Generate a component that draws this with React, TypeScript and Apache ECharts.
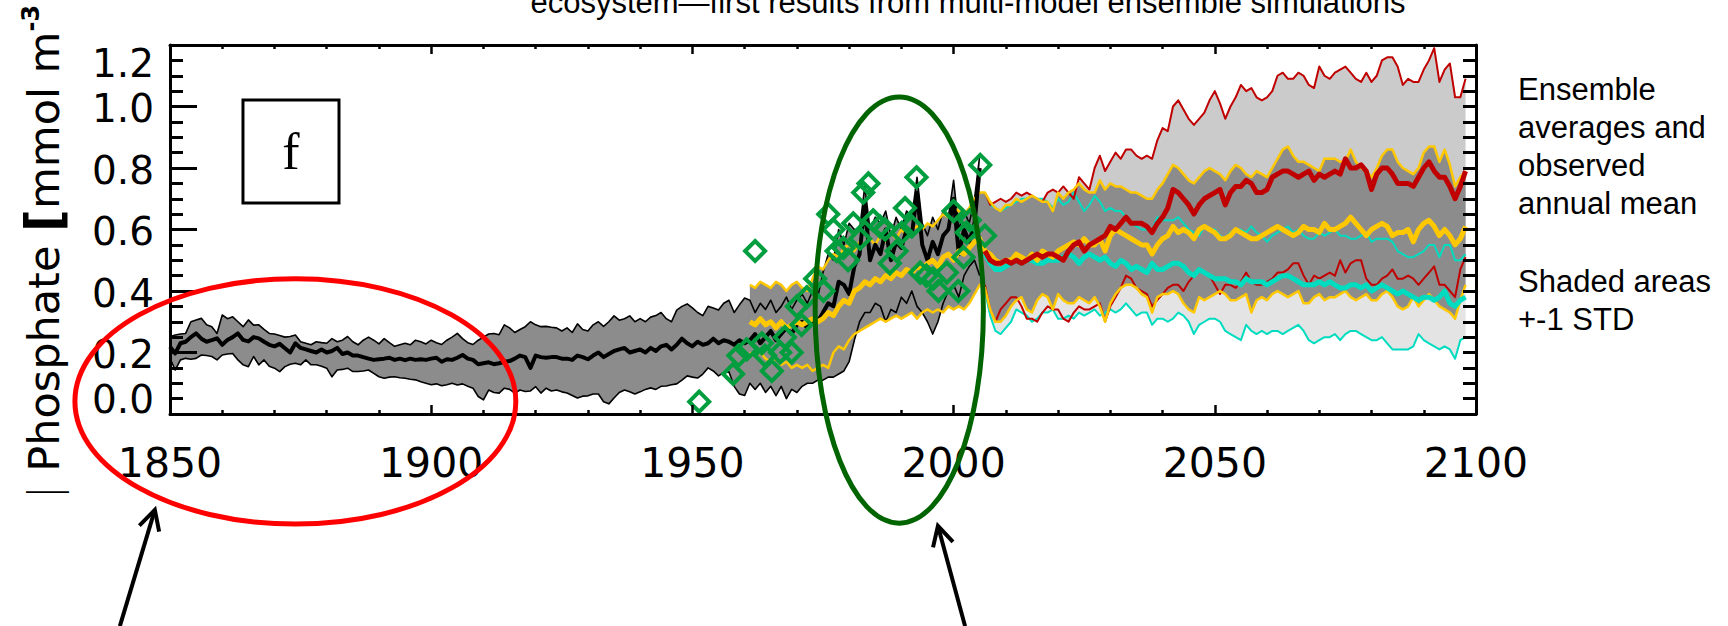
import React, { useEffect, useRef } from "react";
import * as echarts from "echarts";

// ---------------- data ----------------
const HIST_START = 1850; // black ensemble, 1850-2005
const YELLOW_START = 1961; // yellow ensemble, 1961-2098
const SCEN_START = 2006; // red / cyan scenarios, 2006-2098

const blackMean = [
  0.219, 0.197, 0.23, 0.235, 0.25, 0.262, 0.245, 0.235, 0.24, 0.246,
  0.225, 0.241, 0.25, 0.262, 0.241, 0.236, 0.25, 0.246, 0.235, 0.225,
  0.22, 0.228, 0.214, 0.2, 0.23, 0.215, 0.21, 0.205, 0.2, 0.21,
  0.2, 0.205, 0.215, 0.195, 0.2, 0.19, 0.19, 0.185, 0.18, 0.176,
  0.178, 0.18, 0.183, 0.176, 0.18, 0.175, 0.18, 0.176, 0.178, 0.176,
  0.18, 0.183, 0.17, 0.178, 0.176, 0.183, 0.192, 0.18, 0.176, 0.162,
  0.165, 0.168, 0.162, 0.165, 0.17, 0.172, 0.18, 0.19, 0.185, 0.15,
  0.19, 0.185, 0.183, 0.185, 0.185, 0.18, 0.18, 0.176, 0.19, 0.185,
  0.178, 0.19, 0.2, 0.185, 0.195, 0.205, 0.21, 0.215, 0.2, 0.205,
  0.21, 0.2, 0.215, 0.205, 0.22, 0.225, 0.21, 0.225, 0.245, 0.23,
  0.22, 0.235, 0.225, 0.23, 0.245, 0.23, 0.24, 0.235, 0.225, 0.24,
  0.23, 0.24, 0.26, 0.23, 0.25, 0.27, 0.24, 0.26, 0.28, 0.26,
  0.29, 0.3, 0.28, 0.31, 0.3, 0.33, 0.36, 0.35, 0.43, 0.42,
  0.39, 0.48, 0.52, 0.68, 0.5, 0.55, 0.52, 0.6, 0.5, 0.56,
  0.54, 0.6, 0.58, 0.72, 0.55, 0.5, 0.56, 0.52, 0.58, 0.6,
  0.7, 0.52, 0.6, 0.56, 0.62, 0.8,
];
const blackUpper = [
  0.251, 0.257, 0.26, 0.262, 0.3, 0.306, 0.311, 0.29, 0.284, 0.262,
  0.322, 0.31, 0.316, 0.3, 0.284, 0.306, 0.289, 0.29, 0.275, 0.262,
  0.26, 0.255, 0.25, 0.252, 0.257, 0.235, 0.23, 0.225, 0.235, 0.232,
  0.23, 0.245, 0.235, 0.24, 0.252, 0.235, 0.225, 0.24, 0.25, 0.24,
  0.228, 0.245, 0.232, 0.22, 0.225, 0.23, 0.225, 0.24, 0.235, 0.228,
  0.24, 0.232, 0.226, 0.24, 0.25, 0.262, 0.245, 0.232, 0.226, 0.24,
  0.25, 0.26, 0.262, 0.258, 0.29, 0.28, 0.265, 0.275, 0.284, 0.3,
  0.29, 0.284, 0.285, 0.282, 0.28, 0.27, 0.28, 0.265, 0.293, 0.275,
  0.27, 0.29, 0.3, 0.285, 0.3, 0.319, 0.305, 0.31, 0.319, 0.3,
  0.31, 0.3, 0.315, 0.32, 0.33, 0.31, 0.3, 0.338, 0.35, 0.358,
  0.345, 0.33, 0.32, 0.35, 0.345, 0.338, 0.36, 0.37, 0.33, 0.355,
  0.377, 0.37, 0.33, 0.36, 0.34, 0.37, 0.33, 0.35, 0.38, 0.34,
  0.37, 0.39, 0.36, 0.4, 0.38, 0.46, 0.52, 0.5, 0.6, 0.55,
  0.62, 0.6, 0.6, 0.74, 0.6, 0.64, 0.62, 0.66, 0.58, 0.64,
  0.6, 0.66, 0.64, 0.77, 0.62, 0.58, 0.64, 0.6, 0.66, 0.64,
  0.76, 0.6, 0.66, 0.62, 0.7, 0.84,
];
const blackLower = [
  0.181, 0.143, 0.176, 0.181, 0.178, 0.181, 0.192, 0.19, 0.187, 0.176,
  0.192, 0.195, 0.197, 0.176, 0.16, 0.154, 0.187, 0.16, 0.176, 0.155,
  0.149, 0.138, 0.154, 0.162, 0.165, 0.16, 0.176, 0.16, 0.16, 0.155,
  0.149, 0.121, 0.143, 0.145, 0.149, 0.138, 0.138, 0.14, 0.143, 0.132,
  0.121, 0.116, 0.12, 0.121, 0.118, 0.116, 0.113, 0.111, 0.105, 0.1,
  0.095, 0.098, 0.092, 0.095, 0.1, 0.094, 0.098, 0.09, 0.084, 0.057,
  0.046, 0.078, 0.07, 0.068, 0.084, 0.08, 0.068, 0.078, 0.073, 0.075,
  0.089, 0.068, 0.084, 0.075, 0.078, 0.072, 0.068, 0.06, 0.052, 0.058,
  0.059, 0.065, 0.065, 0.04, 0.033, 0.052, 0.07, 0.078, 0.072, 0.065,
  0.072, 0.08, 0.085, 0.08, 0.09, 0.091, 0.095, 0.098, 0.11, 0.124,
  0.12, 0.117, 0.13, 0.15, 0.14, 0.124, 0.135, 0.137, 0.09, 0.065,
  0.06, 0.1, 0.08, 0.1, 0.07, 0.09, 0.06, 0.09, 0.05, 0.08,
  0.07, 0.09, 0.1, 0.1, 0.11, 0.11, 0.12, 0.12, 0.13, 0.14,
  0.17, 0.24, 0.3, 0.33, 0.33, 0.36, 0.35, 0.3, 0.34, 0.33,
  0.38, 0.36, 0.4, 0.35, 0.33, 0.3, 0.26, 0.3, 0.36, 0.4,
  0.42, 0.38, 0.45, 0.48, 0.5, 0.45,
];

const yellowUpper = [
  0.42, 0.41, 0.43, 0.42, 0.41, 0.43, 0.42, 0.4, 0.42, 0.43,
  0.41, 0.4, 0.44, 0.48, 0.47, 0.5, 0.52, 0.51, 0.54, 0.55,
  0.53, 0.56, 0.55, 0.57, 0.55, 0.58, 0.56, 0.59, 0.57, 0.6,
  0.58, 0.6, 0.61, 0.6, 0.62, 0.61, 0.63, 0.65, 0.64, 0.67,
  0.66, 0.65, 0.67, 0.7, 0.72,
  0.72, 0.69, 0.67, 0.66, 0.68, 0.68, 0.7, 0.69, 0.7, 0.71,
  0.7, 0.69, 0.69, 0.66, 0.72, 0.7, 0.72, 0.73, 0.75, 0.73,
  0.72, 0.72, 0.76, 0.73, 0.75, 0.74, 0.74, 0.73, 0.72, 0.72,
  0.71, 0.7, 0.7, 0.73, 0.75, 0.78, 0.81, 0.8, 0.78, 0.76,
  0.75, 0.77, 0.79, 0.8, 0.79, 0.78, 0.76, 0.79, 0.81, 0.8,
  0.78, 0.77, 0.79, 0.78, 0.77, 0.8, 0.83, 0.86, 0.87, 0.84,
  0.82, 0.82, 0.81, 0.8, 0.79, 0.83, 0.83, 0.83, 0.82, 0.82,
  0.86, 0.82, 0.8, 0.79, 0.77, 0.8, 0.84, 0.86, 0.86, 0.82,
  0.8, 0.79, 0.78, 0.8, 0.85, 0.87, 0.87, 0.82, 0.86, 0.81,
  0.74, 0.77, 0.79,
];
const yellowMean = [
  0.3, 0.29, 0.31, 0.29, 0.3, 0.28, 0.3, 0.28, 0.29, 0.3,
  0.29, 0.3, 0.31, 0.3, 0.31, 0.33, 0.32, 0.35, 0.37, 0.36,
  0.4, 0.41, 0.43, 0.42, 0.44, 0.43, 0.45, 0.44, 0.46, 0.45,
  0.47, 0.46, 0.48, 0.47, 0.49, 0.5, 0.48, 0.51, 0.52, 0.5,
  0.53, 0.52, 0.54, 0.56, 0.57,
  0.53, 0.52, 0.5, 0.49, 0.5, 0.5, 0.52, 0.51, 0.5, 0.52,
  0.5, 0.53, 0.52, 0.51, 0.53, 0.54, 0.55, 0.56, 0.55, 0.57,
  0.55, 0.55, 0.57, 0.53, 0.58, 0.6, 0.59, 0.58, 0.57, 0.56,
  0.55, 0.55, 0.52, 0.55, 0.57, 0.58, 0.61, 0.59, 0.6, 0.59,
  0.57, 0.6, 0.61, 0.6, 0.59, 0.57, 0.57, 0.58, 0.6, 0.59,
  0.58, 0.57, 0.57, 0.58, 0.59, 0.6, 0.61, 0.6, 0.59, 0.58,
  0.59, 0.61, 0.6, 0.6, 0.59, 0.62, 0.6, 0.6, 0.61, 0.62,
  0.64, 0.62, 0.6, 0.58, 0.6, 0.61, 0.62, 0.61, 0.58, 0.59,
  0.59, 0.6, 0.56, 0.6, 0.62, 0.63, 0.61, 0.58, 0.6, 0.58,
  0.55, 0.57, 0.61,
];
const yellowLower = [
  0.2, 0.19, 0.2, 0.18, 0.17, 0.18, 0.16, 0.17, 0.15, 0.16,
  0.15, 0.16, 0.14, 0.15, 0.16, 0.15, 0.2, 0.22, 0.21, 0.24,
  0.26, 0.27, 0.28, 0.29, 0.3, 0.31, 0.3, 0.31, 0.32, 0.31,
  0.32, 0.33, 0.31, 0.33, 0.34, 0.33, 0.34, 0.33, 0.35, 0.34,
  0.35, 0.34, 0.36, 0.39, 0.42,
  0.41, 0.34, 0.3, 0.3, 0.32, 0.35, 0.37, 0.38, 0.34, 0.33,
  0.37, 0.39, 0.38, 0.34, 0.39, 0.37, 0.36, 0.36, 0.38, 0.37,
  0.36, 0.38, 0.35, 0.3, 0.36, 0.39, 0.41, 0.42, 0.42, 0.41,
  0.39, 0.38, 0.33, 0.38, 0.39, 0.39, 0.4, 0.39, 0.36, 0.34,
  0.33, 0.38, 0.37, 0.38, 0.39, 0.4, 0.39, 0.37, 0.37, 0.38,
  0.39, 0.33, 0.37, 0.38, 0.37, 0.39, 0.4, 0.39, 0.38, 0.39,
  0.4, 0.36, 0.36, 0.38, 0.39, 0.37, 0.38, 0.38, 0.39, 0.4,
  0.38, 0.37, 0.38, 0.39, 0.37, 0.37, 0.39, 0.4, 0.38, 0.35,
  0.34, 0.35, 0.38, 0.35, 0.37, 0.39, 0.37, 0.35, 0.34, 0.33,
  0.31, 0.37, 0.42,
];

const redUpper = [
  0.72, 0.68, 0.69, 0.7, 0.69, 0.7, 0.72, 0.71, 0.72, 0.71,
  0.7, 0.69, 0.72, 0.73, 0.72, 0.74, 0.72, 0.7, 0.77, 0.75,
  0.73, 0.8, 0.84, 0.79, 0.82, 0.85, 0.83, 0.86, 0.86, 0.84,
  0.83, 0.84, 0.83, 0.89, 0.93, 0.92, 1.0, 1.02, 0.99, 0.96,
  0.94, 0.96, 0.98, 1.02, 1.05, 1.01, 0.96, 1.0, 1.03, 1.07,
  1.05, 1.06, 1.03, 1.02, 1.03, 1.05, 1.1, 1.11, 1.09, 1.09,
  1.11, 1.1, 1.07, 1.06, 1.13, 1.1, 1.09, 1.11, 1.12, 1.13,
  1.11, 1.09, 1.08, 1.11, 1.08, 1.1, 1.15, 1.16, 1.16, 1.13,
  1.07, 1.09, 1.08, 1.08, 1.12, 1.15, 1.19, 1.08, 1.12, 1.14,
  1.03, 1.03, 1.09,
];
const redMean = [
  0.53, 0.5, 0.49, 0.49, 0.5, 0.49, 0.5, 0.49, 0.5, 0.51,
  0.52, 0.51, 0.52, 0.52, 0.51, 0.5, 0.53, 0.55, 0.56, 0.53,
  0.55, 0.56, 0.57, 0.58, 0.61, 0.6, 0.62, 0.64, 0.62, 0.62,
  0.62, 0.61, 0.59, 0.62, 0.64, 0.67, 0.73, 0.72, 0.7, 0.68,
  0.65, 0.68, 0.7, 0.71, 0.72, 0.73, 0.68, 0.72, 0.74, 0.74,
  0.76, 0.75, 0.72, 0.72, 0.73, 0.77, 0.78, 0.79, 0.79, 0.78,
  0.77, 0.78, 0.79, 0.76, 0.78, 0.77, 0.78, 0.79, 0.78, 0.83,
  0.8, 0.8, 0.81, 0.79, 0.73, 0.78, 0.8, 0.8, 0.78, 0.75,
  0.75, 0.75, 0.74, 0.77, 0.8, 0.82, 0.79, 0.77, 0.77, 0.74,
  0.7, 0.74, 0.79,
];
const redLower = [
  0.42, 0.34, 0.3, 0.34, 0.36, 0.38, 0.38, 0.35, 0.31, 0.31,
  0.3, 0.33, 0.35, 0.34, 0.34, 0.31, 0.3, 0.33, 0.35, 0.34,
  0.34, 0.35, 0.36, 0.3, 0.35, 0.38, 0.41, 0.45, 0.44, 0.41,
  0.4, 0.39, 0.35, 0.37, 0.39, 0.41, 0.42, 0.42, 0.4, 0.43,
  0.45, 0.47, 0.46, 0.45, 0.42, 0.39, 0.42, 0.42, 0.41, 0.43,
  0.46, 0.43, 0.42, 0.42, 0.43, 0.44, 0.46, 0.46, 0.47, 0.49,
  0.49, 0.45, 0.42, 0.45, 0.44, 0.45, 0.46, 0.45, 0.5, 0.46,
  0.49, 0.5, 0.5, 0.44, 0.42, 0.42, 0.44, 0.45, 0.47, 0.44,
  0.44, 0.45, 0.44, 0.42, 0.44, 0.46, 0.48, 0.42, 0.42, 0.4,
  0.38, 0.47, 0.51,
];

const cyanUpper = [
  0.72, 0.68, 0.67, 0.66, 0.67, 0.68, 0.69, 0.7, 0.7, 0.71,
  0.7, 0.7, 0.69, 0.67, 0.7, 0.68, 0.69, 0.72, 0.69, 0.66,
  0.68, 0.71, 0.69, 0.66, 0.67, 0.66, 0.66, 0.64, 0.62, 0.61,
  0.6, 0.6, 0.6, 0.64, 0.63, 0.63, 0.63, 0.64, 0.62, 0.6,
  0.59, 0.58, 0.61, 0.6, 0.6, 0.58, 0.57, 0.59, 0.6, 0.6,
  0.59, 0.61, 0.59, 0.58, 0.56, 0.58, 0.59, 0.6, 0.61, 0.59,
  0.6, 0.58, 0.57, 0.57, 0.59, 0.58, 0.59, 0.6, 0.58, 0.58,
  0.57, 0.57, 0.58, 0.59, 0.56, 0.57, 0.57, 0.57, 0.56, 0.53,
  0.52, 0.51, 0.51, 0.52, 0.53, 0.55, 0.55, 0.51, 0.55, 0.55,
  0.5, 0.5, 0.52,
];
const cyanMean = [
  0.52, 0.49, 0.47, 0.47, 0.48, 0.49, 0.5, 0.49, 0.5, 0.5,
  0.49, 0.49, 0.5, 0.5, 0.5, 0.51, 0.52, 0.51, 0.49, 0.51,
  0.52, 0.51, 0.5, 0.51, 0.49, 0.48, 0.5, 0.49, 0.47, 0.48,
  0.47, 0.46, 0.49, 0.47, 0.47, 0.48, 0.49, 0.49, 0.48, 0.46,
  0.45, 0.47, 0.46, 0.45, 0.44, 0.44, 0.44, 0.43, 0.43, 0.42,
  0.44, 0.43, 0.43, 0.43, 0.42, 0.43, 0.44, 0.45, 0.45, 0.44,
  0.43, 0.42, 0.42, 0.42, 0.43, 0.42, 0.43, 0.42, 0.41, 0.41,
  0.42, 0.42, 0.41, 0.42, 0.4, 0.41, 0.42, 0.41, 0.4, 0.39,
  0.4, 0.39, 0.38, 0.37, 0.38, 0.38, 0.37, 0.38, 0.4, 0.36,
  0.35, 0.37, 0.38,
];
const cyanLower = [
  0.4, 0.32, 0.27, 0.26, 0.28, 0.3, 0.34, 0.33, 0.32, 0.3,
  0.31, 0.33, 0.33, 0.34, 0.31, 0.31, 0.32, 0.31, 0.33, 0.32,
  0.33, 0.34, 0.32, 0.33, 0.34, 0.33, 0.34, 0.36, 0.34, 0.32,
  0.33, 0.33, 0.29, 0.31, 0.31, 0.3, 0.31, 0.33, 0.32, 0.3,
  0.26, 0.29, 0.3, 0.31, 0.31, 0.3, 0.27, 0.26, 0.25, 0.24,
  0.29, 0.27, 0.26, 0.27, 0.26, 0.27, 0.27, 0.26, 0.27, 0.28,
  0.29, 0.27, 0.24, 0.23, 0.24, 0.25, 0.25, 0.26, 0.24, 0.26,
  0.27, 0.27, 0.26, 0.25, 0.24, 0.24, 0.25, 0.23, 0.21, 0.21,
  0.21, 0.21, 0.22, 0.26, 0.24, 0.23, 0.22, 0.21, 0.22, 0.21,
  0.18, 0.24, 0.25,
];

// observed annual means (green diamonds)
const obsYear = [
  1951.3, 1957.8, 1958.8, 1960.4, 1962.0, 1963.3, 1963.9, 1965.2, 1966.8, 1967.7,
  1969.0, 1970.0, 1970.9, 1971.9, 1973.5, 1975.1, 1976.0, 1977.0, 1977.6, 1978.9,
  1979.8, 1980.8, 1982.1, 1982.7, 1983.7, 1984.6, 1985.9, 1986.9, 1987.8, 1989.1,
  1990.1, 1990.7, 1992.0, 1992.9, 1993.6, 1994.8, 1996.1, 1997.1, 1998.7, 2000.0,
  2000.9, 2001.9, 2002.5, 2003.1, 2005.1, 2006.0,
];
const obsValue = [
  0.04, 0.13, 0.19, 0.21, 0.53, 0.23, 0.19, 0.14, 0.2, 0.25,
  0.2, 0.35, 0.29, 0.38, 0.44, 0.4, 0.65, 0.6, 0.53, 0.54,
  0.5, 0.62, 0.57, 0.72, 0.75, 0.63, 0.61, 0.6, 0.49, 0.53,
  0.59, 0.67, 0.61, 0.77, 0.46, 0.45, 0.44, 0.4, 0.46, 0.66,
  0.4, 0.51, 0.59, 0.63, 0.81, 0.58,
];

// axes
const X_MIN = 1850, X_MAX = 2100, X_STEP = 50;
const Y_MIN = 0, Y_MAX = 1.2, Y_STEP = 0.2;

// texts
const TITLE_TEXT = "ecosystem\u2014first results from multi-model ensemble simulations";
const LEGEND_1 = ["Ensemble", "averages and", "observed", "annual mean"];
const LEGEND_2 = ["Shaded areas", "+-1 STD"];
const PANEL_LETTER = "f";

// annotations, in data coordinates
const redEllipse = { year: 1874.0, value: 0.041, yearRadius: 42.2, valueRadius: 0.399 };
const greenEllipse = { year: 1989.6, value: 0.338, yearRadius: 16.1, valueRadius: 0.693 };
const arrows = [
  { from: [1840.4, -0.69], to: [1847.1, -0.312] },
  { from: [2002.2, -0.69], to: [1997.0, -0.364] },
];
const letterBox = { from: [1863.97, 1.021], to: [1882.35, 0.686] };

// ---------------- helpers ----------------
const pairs = (start: number, arr: number[]) => arr.map((v, i) => [start + i, v]);
const bandRows = (start: number, lo: number[], hi: number[]) =>
  lo.map((v, i) => [start + i, v, hi[i]]);

function band(rows: number[][], fill: string, z: number) {
  return {
    type: "custom",
    data: rows,
    encode: { x: 0, y: [1, 2] },
    z,
    silent: true,
    clip: true,
    renderItem: (params: any, api: any) => {
      if (params.dataIndex !== 0) return null;
      const top = rows.map((r) => api.coord([r[0], r[2]]));
      const bottom = rows.map((r) => api.coord([r[0], r[1]])).reverse();
      return {
        type: "polygon",
        shape: { points: top.concat(bottom) },
        style: { fill, stroke: null },
      };
    },
  };
}

function line(start: number, arr: number[], color: string, width: number, z: number) {
  return {
    type: "line",
    data: pairs(start, arr),
    showSymbol: false,
    symbol: "none",
    lineStyle: { color, width, join: "round" },
    itemStyle: { color },
    z,
    silent: true,
    clip: true,
  };
}

const BLACK = "#000000";
const GOLD = "#ffc800";
const DARKRED = "#c00000";
const CYAN = "#00dcc0";
const GREEN = "#009e3e";

const xAxisBase = (position: string, showLabel: boolean) => ({
  type: "value",
  position,
  min: X_MIN,
  max: X_MAX,
  interval: X_STEP,
  z: 10,
  axisLine: { show: true, onZero: false, lineStyle: { color: BLACK, width: 3 } },
  axisTick: { show: true, inside: true, length: 9, lineStyle: { color: BLACK, width: 2.5 } },
  minorTick: { show: true, splitNumber: 5, length: 4, lineStyle: { color: BLACK, width: 2.5 } },
  axisLabel: {
    show: showLabel,
    margin: 28,
    fontSize: 41,
    fontFamily: "DejaVu Sans",
    color: BLACK,
    showMinLabel: true,
    showMaxLabel: true,
    formatter: (v: number) => String(v),
  },
  splitLine: { show: false },
  minorSplitLine: { show: false },
});

const yLabelFont = { fontSize: 39, fontFamily: "DejaVu Sans", color: BLACK };

export default function App() {
  const ref = useRef<HTMLDivElement>(null);

  useEffect(() => {
    if (!ref.current) return;
    const chart = echarts.init(ref.current, undefined, { renderer: "svg" });

    const option: any = {
      animation: false,
      backgroundColor: "#ffffff",
      grid: { left: 170, top: 45, width: 1306, height: 369, show: false },
      xAxis: [xAxisBase("bottom", true), xAxisBase("top", false)],
      yAxis: [
        {
          type: "value",
          position: "left",
          min: Y_MIN,
          max: Y_MAX,
          interval: Y_STEP,
          z: 10,
          axisLine: { show: true, onZero: false, lineStyle: { color: BLACK, width: 3 } },
          axisTick: { show: true, inside: true, length: 27, lineStyle: { color: BLACK, width: 3 } },
          minorTick: { show: true, splitNumber: 4, length: 13, lineStyle: { color: BLACK, width: 3 } },
          axisLabel: {
            show: true,
            margin: 16,
            showMinLabel: true,
            showMaxLabel: true,
            formatter: (v: number) => {
              const s = v.toFixed(1);
              if (Math.abs(v - Y_MIN) < 1e-9) return "{lo|" + s + "}";
              if (Math.abs(v - Y_MAX) < 1e-9) return "{hi|" + s + "}";
              return "{n|" + s + "}";
            },
            rich: {
              n: { ...yLabelFont, padding: [4, 0, 0, 0] },
              lo: { ...yLabelFont, padding: [0, 0, 30, 0] },
              hi: { ...yLabelFont, padding: [36, 0, 0, 0] },
            },
          },
          splitLine: { show: false },
          minorSplitLine: { show: false },
        },
        {
          type: "value",
          position: "right",
          min: Y_MIN,
          max: Y_MAX,
          interval: Y_STEP,
          z: 10,
          axisLine: { show: true, onZero: false, lineStyle: { color: BLACK, width: 3 } },
          axisTick: { show: true, inside: true, length: 13, lineStyle: { color: BLACK, width: 3 } },
          minorTick: { show: true, splitNumber: 4, length: 13, lineStyle: { color: BLACK, width: 3 } },
          axisLabel: { show: false },
          splitLine: { show: false },
          minorSplitLine: { show: false },
        },
      ],
      series: [
        band(bandRows(SCEN_START, redLower, redUpper), "#cbcbcb", 1),
        band(bandRows(SCEN_START, cyanLower, cyanUpper), "#e4e4e4", 2),
        band(bandRows(HIST_START, blackLower, blackUpper), "#8c8c8c", 3),
        band(bandRows(YELLOW_START, yellowLower, yellowUpper), "#8c8c8c", 3),
        line(HIST_START, blackUpper, BLACK, 1.6, 4),
        line(HIST_START, blackLower, BLACK, 1.6, 4),
        line(SCEN_START, cyanUpper, CYAN, 2, 4),
        line(SCEN_START, cyanLower, CYAN, 2, 4),
        line(SCEN_START, redUpper, DARKRED, 2, 4),
        line(SCEN_START, redLower, DARKRED, 2, 4),
        line(YELLOW_START, yellowUpper, GOLD, 2.5, 4),
        line(YELLOW_START, yellowLower, GOLD, 2.5, 4),
        line(HIST_START, blackMean, BLACK, 4, 5),
        line(SCEN_START, cyanMean, CYAN, 5, 5),
        line(YELLOW_START, yellowMean, GOLD, 5, 5),
        line(SCEN_START, redMean, DARKRED, 5, 5),
        {
          type: "scatter",
          data: obsYear.map((y, i) => [y, obsValue[i]]),
          symbol: "diamond",
          symbolSize: 20,
          itemStyle: { color: "rgba(0,0,0,0)", borderColor: GREEN, borderWidth: 4, opacity: 1 },
          z: 7,
          silent: true,
        },
      ],
    };
    chart.setOption(option);

    const px = (p: number[]) => chart.convertToPixel({ gridIndex: 0 }, p) as number[];

    const ellipseEl = (e: any, color: string) => {
      const c = px([e.year, e.value]);
      const rx = px([e.year + e.yearRadius, e.value])[0] - c[0];
      const ry = c[1] - px([e.year, e.value + e.valueRadius])[1];
      return {
        type: "ellipse",
        z: 30,
        silent: true,
        shape: { cx: c[0], cy: c[1], rx, ry },
        style: { fill: "none", stroke: color, lineWidth: 5 },
      };
    };

    const arrowEls = (a: any) => {
      const s = px(a.from);
      const t = px(a.to);
      const dx = t[0] - s[0];
      const dy = t[1] - s[1];
      const len = Math.hypot(dx, dy);
      const ux = dx / len;
      const uy = dy / len;
      const ang = (28 * Math.PI) / 180;
      const L = 22;
      const arm = (sg: number) => [
        t[0] - L * (ux * Math.cos(ang) - sg * uy * Math.sin(ang)),
        t[1] - L * (uy * Math.cos(ang) + sg * ux * Math.sin(ang)),
      ];
      return [
        {
          type: "line",
          z: 30,
          silent: true,
          shape: { x1: s[0], y1: s[1], x2: t[0], y2: t[1] },
          style: { stroke: BLACK, lineWidth: 4 },
        },
        {
          type: "polyline",
          z: 30,
          silent: true,
          shape: { points: [arm(1), t, arm(-1)] },
          style: { stroke: BLACK, lineWidth: 4, fill: "none" },
        },
      ];
    };

    const b0 = px(letterBox.from);
    const b1 = px(letterBox.to);

    const graphic: any[] = [
      {
        type: "text",
        x: 968,
        y: 2,
        silent: true,
        style: {
          text: TITLE_TEXT,
          fontSize: 31,
          fontFamily: "Liberation Sans",
          fill: BLACK,
          align: "center",
          verticalAlign: "middle",
        },
      },
      {
        type: "text",
        x: 44,
        y: 252,
        rotation: Math.PI / 2,
        silent: true,
        style: {
          text: "{a|| }{b|Phosphate }{c|[}{b|mmol m}{d|-3}",
          align: "center",
          verticalAlign: "middle",
          fill: BLACK,
          rich: {
            a: { fontSize: 42, fontFamily: "DejaVu Sans", fontWeight: 200, fill: BLACK },
            b: { fontSize: 43, fontFamily: "DejaVu Sans", fill: BLACK },
            c: { fontSize: 50, fontFamily: "DejaVu Sans", fontWeight: "bold", fill: BLACK },
            d: { fontSize: 24, fontFamily: "DejaVu Sans", fontWeight: "bold", fill: BLACK, verticalAlign: "top" },
          },
        },
      },
      {
        type: "text",
        x: 1518,
        y: 70,
        silent: true,
        style: {
          text: LEGEND_1.join("\n"),
          fontSize: 31,
          lineHeight: 38,
          fontFamily: "Liberation Sans",
          fill: BLACK,
          align: "left",
          verticalAlign: "top",
        },
      },
      {
        type: "text",
        x: 1518,
        y: 262,
        silent: true,
        style: {
          text: LEGEND_2.join("\n"),
          fontSize: 31,
          lineHeight: 38,
          fontFamily: "Liberation Sans",
          fill: BLACK,
          align: "left",
          verticalAlign: "top",
        },
      },
      {
        type: "rect",
        z: 30,
        silent: true,
        shape: { x: b0[0], y: b0[1], width: b1[0] - b0[0], height: b1[1] - b0[1] },
        style: { fill: "#ffffff", stroke: BLACK, lineWidth: 3 },
      },
      {
        type: "text",
        z: 31,
        silent: true,
        x: (b0[0] + b1[0]) / 2,
        y: (b0[1] + b1[1]) / 2,
        style: {
          text: PANEL_LETTER,
          fontSize: 52,
          fontFamily: "Liberation Serif",
          fill: BLACK,
          align: "center",
          verticalAlign: "middle",
        },
      },
      ellipseEl(redEllipse, "#ff0000"),
      ellipseEl(greenEllipse, "#006400"),
      ...arrows.flatMap(arrowEls),
    ];

    chart.setOption({ graphic });

    return () => {
      chart.dispose();
    };
  }, []);

  return (
    <div
      ref={ref}
      style={{
        position: "fixed",
        left: 0,
        top: 0,
        width: "1728px",
        height: "626px",
        background: "#ffffff",
      }}
    />
  );
}
